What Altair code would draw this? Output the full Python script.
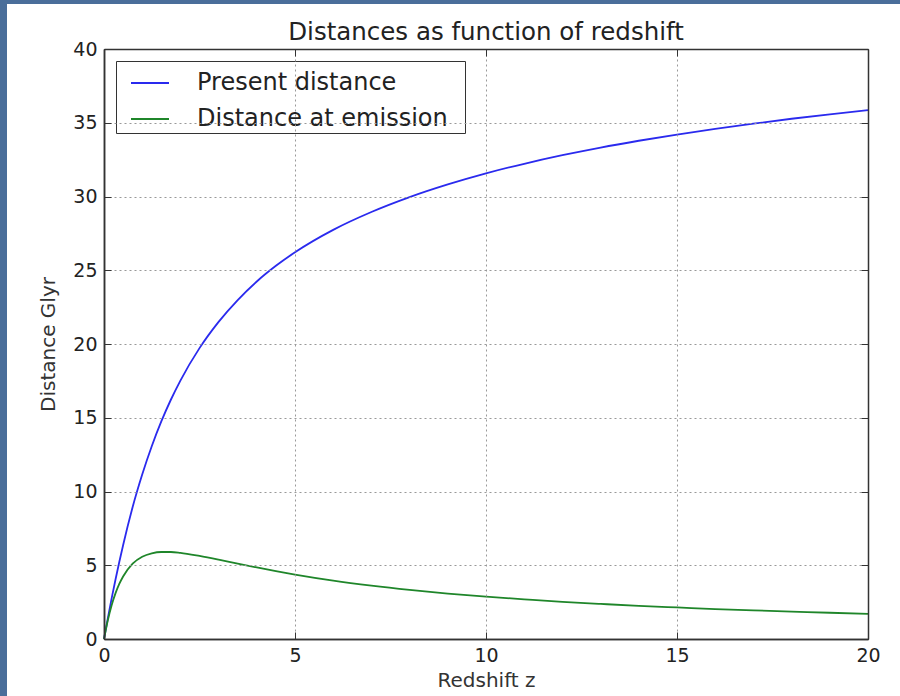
import altair as alt
import pandas as pd

# ---- data ----
redshift = [0, 0.1, 0.2, 0.3, 0.4, 0.5, 0.75, 1.0, 1.25, 1.5, 1.75, 2.0, 2.5, 3.0, 3.5, 4.0,
            4.5, 5.0, 6.0, 7.0, 8.0, 9.0, 10.0, 11.0, 12.0, 13.0, 14.0, 15.0, 16.0, 17.0,
            18.0, 19.0, 20.0]
present_distance = [0, 1.40, 2.75, 4.02, 5.22, 6.36, 8.95, 11.15, 13.07, 14.75, 16.22, 17.52,
                    19.72, 21.5, 22.98, 24.24, 25.3, 26.22, 27.74, 28.95, 29.96, 30.82, 31.57,
                    32.22, 32.8, 33.32, 33.78, 34.2, 34.58, 34.94, 35.27, 35.57, 35.85]
emission_distance = [0, 1.27, 2.29, 3.09, 3.73, 4.24, 5.11, 5.58, 5.81, 5.90, 5.90, 5.84,
                     5.63, 5.38, 5.11, 4.85, 4.6, 4.37, 3.96, 3.62, 3.33, 3.08, 2.87,
                     2.69, 2.52, 2.38, 2.25, 2.14, 2.03, 1.94, 1.86, 1.78, 1.71]
series_names = ["Present distance", "Distance at emission"]
series_colors = ["#2a2aee", "#1f862a"]
x_ticks = [0, 5, 10, 15, 20]
y_ticks = [0, 5, 10, 15, 20, 25, 30, 35, 40]

rows = []
for name, vals in zip(series_names, [present_distance, emission_distance]):
    for zz, v in zip(redshift, vals):
        rows.append({"z": zz, "d": v, "series": name})
df = pd.DataFrame(rows)

W, H = 764, 590
FONT = "DejaVu Sans"
xscale = alt.Scale(domain=[0, 20], nice=False, zero=False)
yscale = alt.Scale(domain=[0, 40], nice=False, zero=False)

# white panel on the blue slide background (decoration)
panel = alt.Chart(pd.DataFrame({"a": [0]})).mark_rect(color="white").encode(
    x=alt.value(-97), x2=alt.value(796), y=alt.value(-45), y2=alt.value(647)
)

lines = alt.Chart(df).mark_line(strokeWidth=1.8, interpolate="monotone").encode(
    x=alt.X("z:Q", scale=xscale,
            axis=alt.Axis(orient="bottom", values=x_ticks, grid=True, ticks=False, tickSize=0,
                          gridDash=[2, 3], gridColor="#999999", gridWidth=1,
                          domain=True, domainColor="#333333", domainWidth=1.5,
                          labelFontSize=19, labelPadding=7, labelFlush=False, labelColor="#222222",
                          title="Redshift z", titleFontSize=20, titleFontWeight="normal",
                          titleColor="#333333", titlePadding=5, zindex=1)),
    y=alt.Y("d:Q", scale=yscale,
            axis=alt.Axis(orient="left", values=y_ticks, grid=True, ticks=False, tickSize=0,
                          gridDash=[2, 3], gridColor="#999999", gridWidth=1,
                          domain=True, domainColor="#333333", domainWidth=1.5,
                          labelFontSize=19, labelPadding=7, labelFlush=False, labelColor="#222222",
                          title="Distance Glyr", titleFontSize=20, titleFontWeight="normal",
                          titleColor="#333333", titlePadding=14, zindex=1)),
    color=alt.Color("series:N", scale=alt.Scale(domain=series_names, range=series_colors),
                    sort=series_names,
                    legend=alt.Legend(title=None, orient="top-left", offset=12,
                                      symbolType="stroke", symbolSize=1444, symbolStrokeWidth=1.8,
                                      symbolOffset=12, labelOffset=27, labelFontSize=24,
                                      labelColor="#222222", labelLimit=600, padding=2,
                                      rowPadding=4, strokeColor="#333333", fillColor="white",
                                      labelExpr="datum.label + '  \u200b'")),
)

tick_axis = dict(labels=False, ticks=True, tickSize=7, tickColor="#333333", tickWidth=1,
                 grid=False, domain=True, domainColor="#333333", domainWidth=1.5, zindex=1)

ticks_a = alt.Chart(df).mark_point(opacity=0).encode(
    x=alt.X("z:Q", scale=xscale, title=None,
            axis=alt.Axis(orient="bottom", offset=-H, values=x_ticks, **tick_axis)),
    y=alt.Y("d:Q", scale=yscale, title=None,
            axis=alt.Axis(orient="left", offset=-W, values=y_ticks, **tick_axis)),
)
ticks_b = alt.Chart(df).mark_point(opacity=0).encode(
    x=alt.X("z:Q", scale=xscale, title=None,
            axis=alt.Axis(orient="top", offset=-H, values=x_ticks, **tick_axis)),
    y=alt.Y("d:Q", scale=yscale, title=None,
            axis=alt.Axis(orient="right", offset=-W, values=y_ticks, **tick_axis)),
)

chart = alt.layer(panel, lines, ticks_a, ticks_b).resolve_axis(
    x="independent", y="independent"
).properties(
    width=W, height=H,
    title=alt.TitleParams("Distances as function of redshift", fontSize=24.5, font=FONT,
                          fontWeight="normal", color="#222222", anchor="middle", offset=0,
                          dy=41),
    autosize=alt.AutoSizeParams(type="none"),
    padding={"left": 104, "top": 49, "right": 32, "bottom": 57},
    background="#4a6e9a",
).configure(font=FONT).configure_view(stroke=None)

chart.save("out.html", embed_options={"renderer": "svg", "actions": False})
